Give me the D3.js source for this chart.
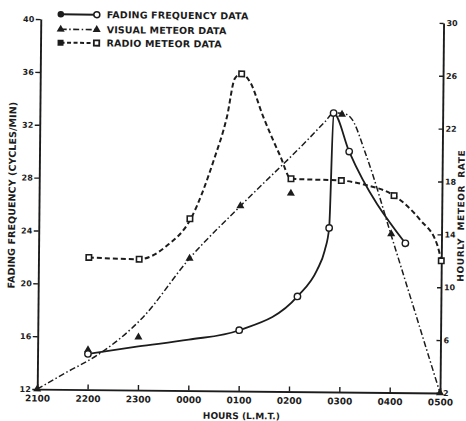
<!DOCTYPE html>
<html>
<head>
<meta charset="utf-8">
<script src="https://d3js.org/d3.v7.min.js"></script>
<style>
body { margin: 0; background: #fff; }
text { font-family: "DejaVu Sans", sans-serif; font-weight: bold; fill: #1c1c1c; }
</style>
</head>
<body>
<div id="chart-area"></div>
<script>
/*
*    Fading frequency vs. meteor rates (scanned figure)
*/

// Tick labels
var hourLabels = ["2100", "2200", "2300", "0000", "0100", "0200", "0300", "0400", "0500"];
var leftTicks = [12, 16, 20, 24, 28, 32, 36, 40];
var rightTicks = [2, 6, 10, 14, 18, 22, 26, 30];

// Fading frequency data (cycles/min, left axis)
var fadingTimes = ["2200", "0100", "0209", "0246", "0250", "0309", "0417"];
var fadingFreq = [14.7, 16.6, 19.2, 24.4, 33.1, 30.2, 23.3];
// hand drawn curve through them
var fadingCurveTimes = ["2200", "2300", "0000", "0100", "0209", "0232", "0241", "0246", "0250", "0309", "0417"];
var fadingCurveFreq = [14.7, 15.3, 15.85, 16.6, 19.2, 21.2, 22.7, 24.4, 33.1, 30.2, 23.3];

// Visual meteor data (hourly rate, right axis)
var visualTimes = ["2100", "2200", "2300", "0000", "0100", "0200", "0300", "0400", "0500"];
var visualRate = [2, 5, 6, 12, 16, 17, 23, 14, 2];
var visualCurveTimes = ["2100", "2135", "2211", "2305", "0000", "0100", "0220", "0240", "0250", "0300", "0310", "0330", "0400", "0500"];
var visualCurveRate = [2, 3.3, 4.6, 7.5, 12, 16, 21.1, 22.45, 23.1, 23.1, 22.8, 19.8, 13.9, 2];

// Radio meteor data (hourly rate, right axis)
var radioTimes = ["2200", "2300", "0000", "0100", "0200", "0300", "0403", "0500"];
var radioRate = [12, 11.9, 15, 26, 18.1, 18, 16.9, 12];
var radioCurveTimes = ["2200", "2300", "2332", "0001", "0028", "0043", "0052", "0100", "0110", "0126", "0147", "0200", "0300", "0328", "0403", "0434", "0455", "0500"];
var radioCurveRate = [12, 11.9, 12.9, 15, 19.5, 22.75, 25.66, 26, 25.4, 22.8, 19.8, 18.1, 18, 17.7, 16.9, 15.1, 13.2, 12];

var ink = "#1c1c1c";

// hours after 2100
function toHours(t) {
    var h = +t.slice(0, 2), m = +t.slice(2);
    return ((h - 21 + 24) % 24) + m / 60;
}
function pairs(times, vals) {
    return times.map(function(t, i) { return [toHours(t), vals[i]]; });
}

var width = 402.8,
    height = 370;

var svg = d3.select("#chart-area")
    .append("svg")
        .attr("width", 466)
        .attr("height", 421);

svg.append("rect").attr("width", 466).attr("height", 421).attr("fill", "#fff");

// the scan is slightly tilted
var root = svg.append("g")
    .attr("transform", "rotate(0.55,239,206)");

var g = root.append("g")
    .attr("transform", "translate(39,21)");

// Scales
var x = d3.scaleLinear().domain([0, 8]).range([0, width]);
var yLeft = d3.scaleLinear().domain([12, 40]).range([height, 0]);
var yRight = d3.scaleLinear().domain([2, 30]).range([height, 0]);

// Axes
var leftAxis = g.append("g")
    .call(d3.axisLeft(yLeft).tickValues(leftTicks).tickSize(5).tickSizeOuter(0).tickPadding(1.5));

var rightAxis = g.append("g")
    .attr("transform", "translate(" + width + ",0)")
    .call(d3.axisRight(yRight).tickValues(rightTicks).tickSize(-4).tickSizeOuter(0).tickPadding(3));

var bottomAxis = g.append("g")
    .attr("transform", "translate(0," + height + ")")
    .call(d3.axisBottom(x).tickValues(d3.range(9))
        .tickFormat(function(d, i) { return hourLabels[i]; })
        .tickSize(-5).tickSizeOuter(0).tickPadding(6));

[leftAxis, rightAxis, bottomAxis].forEach(function(a) {
    a.select(".domain").attr("stroke", ink).attr("stroke-width", 1.9);
    a.selectAll(".tick line").attr("stroke", ink).attr("stroke-width", 1.4);
});
leftAxis.selectAll("text").style("font-size", "8px");
rightAxis.selectAll("text").style("font-size", "8px");
bottomAxis.selectAll("text").style("font-size", "9px");

// Axis titles
g.append("text")
    .attr("transform", "translate(-27," + (height / 2 - 8.7) + ") rotate(-90)")
    .attr("text-anchor", "middle")
    .attr("dy", "0.35em")
    .style("font-size", "9.5px")
    .style("letter-spacing", "0.1px")
    .text("FADING FREQUENCY (CYCLES/MIN)");

g.append("text")
    .attr("transform", "translate(" + (width + 19.3) + "," + (height / 2 + 7.6) + ") rotate(-90)")
    .attr("text-anchor", "middle")
    .attr("dy", "0.35em")
    .style("font-size", "9px")
    .style("letter-spacing", "0.6px")
    .style("word-spacing", "3.5px")
    .text("HOURLY METEOR RATE");

g.append("text")
    .attr("x", width / 2 + 3)
    .attr("y", height + 28)
    .attr("text-anchor", "middle")
    .style("font-size", "9px")
    .text("HOURS (L.M.T.)");

// Lines
function lineFor(yScale) {
    return d3.line()
        .x(function(d) { return x(d[0]); })
        .y(function(d) { return yScale(d[1]); })
        .curve(d3.curveMonotoneX);
}

g.append("path")
    .datum(pairs(radioCurveTimes, radioCurveRate))
    .attr("d", lineFor(yRight))
    .attr("fill", "none")
    .attr("stroke", ink)
    .attr("stroke-width", 2)
    .attr("stroke-dasharray", "5,3");

g.append("path")
    .datum(pairs(visualCurveTimes, visualCurveRate))
    .attr("d", lineFor(yRight))
    .attr("fill", "none")
    .attr("stroke", ink)
    .attr("stroke-width", 1.5)
    .attr("stroke-dasharray", "6,2.5,1.5,2.5");

g.append("path")
    .datum(pairs(fadingCurveTimes, fadingCurveFreq))
    .attr("d", lineFor(yLeft))
    .attr("fill", "none")
    .attr("stroke", ink)
    .attr("stroke-width", 1.8);

// Markers
var tri = d3.symbol().type(d3.symbolTriangle).size(28);

g.selectAll(".radio")
    .data(pairs(radioTimes, radioRate))
    .enter()
    .append("rect")
        .attr("class", "radio")
        .attr("x", function(d) { return x(d[0]) - 2.7; })
        .attr("y", function(d) { return yRight(d[1]) - 2.7; })
        .attr("width", 5.4)
        .attr("height", 5.4)
        .attr("fill", "#fff")
        .attr("stroke", ink)
        .attr("stroke-width", 1.6);

g.selectAll(".visual")
    .data(pairs(visualTimes, visualRate))
    .enter()
    .append("path")
        .attr("class", "visual")
        .attr("d", tri)
        .attr("transform", function(d) { return "translate(" + x(d[0]) + "," + yRight(d[1]) + ")"; })
        .attr("fill", ink);

g.selectAll(".fading")
    .data(pairs(fadingTimes, fadingFreq))
    .enter()
    .append("circle")
        .attr("class", "fading")
        .attr("cx", function(d) { return x(d[0]); })
        .attr("cy", function(d) { return yLeft(d[1]); })
        .attr("r", 3.2)
        .attr("fill", "#fff")
        .attr("stroke", ink)
        .attr("stroke-width", 1.4);

// Legend
var legend = root.append("g");
var rows = [16, 31, 44.4];

legend.append("line").attr("x1", 59).attr("x2", 95).attr("y1", rows[0]).attr("y2", rows[0])
    .attr("stroke", ink).attr("stroke-width", 2);
legend.append("circle").attr("cx", 59).attr("cy", rows[0]).attr("r", 3.3).attr("fill", ink);
legend.append("circle").attr("cx", 95).attr("cy", rows[0]).attr("r", 3).attr("fill", "#fff")
    .attr("stroke", ink).attr("stroke-width", 1.5);

legend.append("line").attr("x1", 59).attr("x2", 95).attr("y1", rows[1]).attr("y2", rows[1])
    .attr("stroke", ink).attr("stroke-width", 1.6).attr("stroke-dasharray", "6,2.5,1.5,2.5");
legend.append("path").attr("d", tri).attr("transform", "translate(59," + rows[1] + ")").attr("fill", ink);
legend.append("path").attr("d", tri).attr("transform", "translate(95," + rows[1] + ")").attr("fill", ink);

legend.append("line").attr("x1", 59).attr("x2", 95).attr("y1", rows[2]).attr("y2", rows[2])
    .attr("stroke", ink).attr("stroke-width", 2).attr("stroke-dasharray", "4,2.5");
legend.append("rect").attr("x", 56).attr("y", rows[2] - 3).attr("width", 6).attr("height", 6).attr("fill", ink);
legend.append("rect").attr("x", 92.3).attr("y", rows[2] - 2.7).attr("width", 5.4).attr("height", 5.4)
    .attr("fill", "#fff").attr("stroke", ink).attr("stroke-width", 1.8);

var legendLabels = ["FADING FREQUENCY DATA", "VISUAL METEOR DATA", "RADIO METEOR DATA"];
legend.selectAll(".leg-label")
    .data(legendLabels)
    .enter()
    .append("text")
        .attr("class", "leg-label")
        .attr("x", 105)
        .attr("y", function(d, i) { return rows[i]; })
        .attr("dy", "0.36em")
        .style("font-size", "9.5px")
        .style("letter-spacing", "0.15px")
        .text(function(d) { return d; });
</script>
</body>
</html>
